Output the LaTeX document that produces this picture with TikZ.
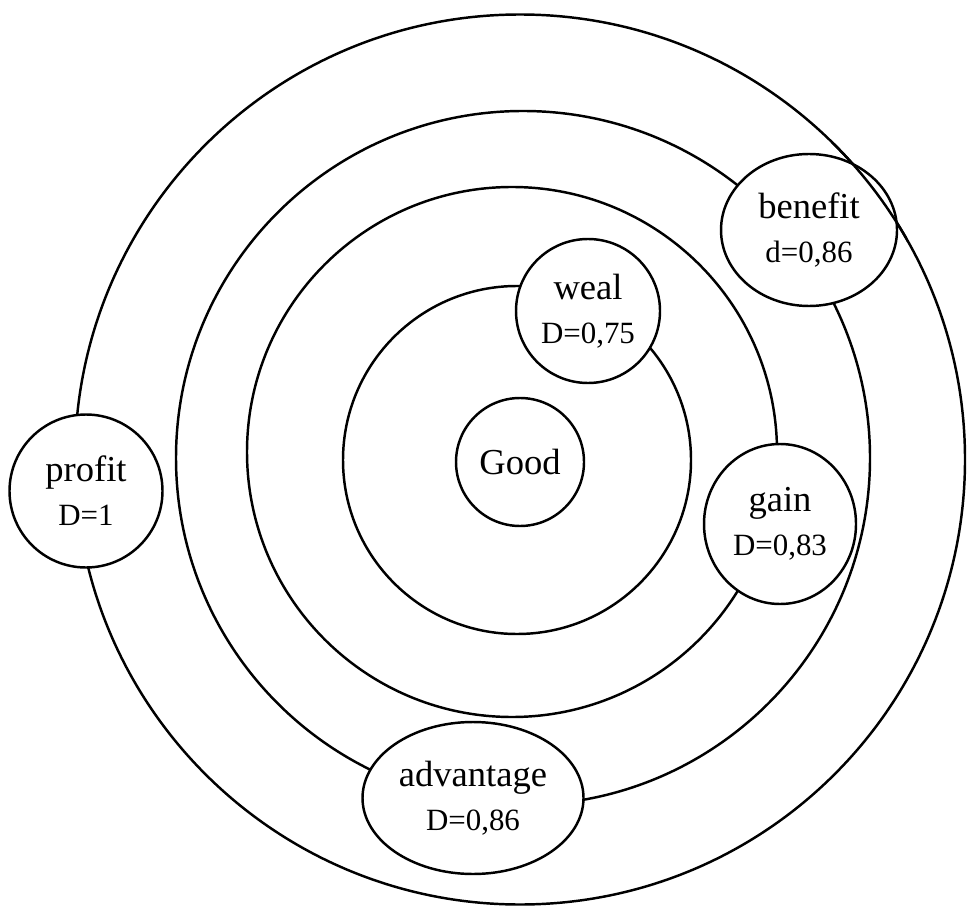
\documentclass[tikz,border=0pt]{standalone}
\usepackage{fontspec}
\setmainfont{Liberation Serif}
\usetikzlibrary{shapes,positioning}
\newcommand{\dval}[1]{{\fontsize{17.6}{21}\selectfont #1}}

\begin{document}
\begin{tikzpicture}[line width=1.4pt,line cap=round,line join=round,x=1.0cm,y=1.0cm,
  font=\fontsize{20.8}{25}\selectfont,
  word/.style={draw,fill=white,align=center,inner sep=0pt},
  wcirc/.style={word,circle,minimum size=#1},
  wellip/.style={word,ellipse}]
\useasboundingbox (0,0) rectangle (19.38,18.12);
% rings
\draw (10.34,8.92) circle (3.48);
\draw (10.24,9.08) circle (5.30);
\draw (10.46,8.96) circle (6.94);
\draw (10.40,8.93) circle (8.90);
% words
\node[wcirc=2.56cm] (good) at (10.40,8.88) {Good};
\node[wcirc=2.88cm] (weal) at (11.76,11.90) {weal\\\dval{D=0,75}};
\node[wellip,minimum width=3.04cm,minimum height=3.20cm] (gain) at (15.60,7.64) {gain\\\dval{D=0,83}};
\node[wellip,minimum width=3.52cm,minimum height=3.04cm] (benefit) at (16.18,13.52) {benefit\\\dval{d=0,86}};
\node[wellip,minimum width=4.42cm,minimum height=3.04cm] (advantage) at (9.46,2.16) {advantage\\\dval{D=0,86}};
\node[wcirc=3.06cm] (profit) at (1.72,8.30) {profit\\\dval{D=1}};
% outer ring runs over benefit
\begin{scope}
\clip ([yshift=5pt]benefit.west |- benefit.north) rectangle ([xshift=5pt]benefit.east |- benefit.south);
\draw (10.40,8.93) circle (8.90);
\end{scope}
\end{tikzpicture}
\end{document}
